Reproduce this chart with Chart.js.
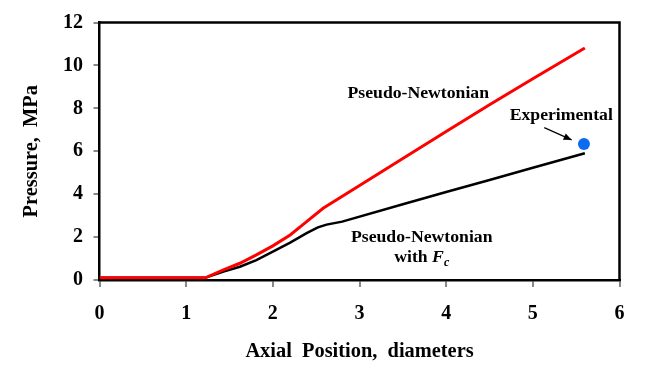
<!DOCTYPE html>
<html><head><meta charset="utf-8">
<script src="https://cdn.jsdelivr.net/npm/chart.js@4/dist/chart.umd.min.js"></script>
<style>html,body{margin:0;padding:0;background:#fff}canvas{display:block}</style>
</head><body>
<canvas id="c" width="650" height="374"></canvas>
<script>
// ---- data ----
const xTickValues = [0, 1, 2, 3, 4, 5, 6];
const yTickValues = [0, 2, 4, 6, 8, 10, 12];
const pseudoNewtonianX = [0, 1.22, 1.43, 1.62, 1.81, 2.0, 2.2, 2.39, 2.58, 2.89, 3.5, 4.0, 4.5, 5.0, 5.6];
const pseudoNewtonianY = [0.1, 0.1, 0.47, 0.78, 1.17, 1.59, 2.10, 2.72, 3.34, 4.12, 5.66, 6.92, 8.17, 9.38, 10.81];
const withFcX = [0, 1.22, 1.43, 1.62, 1.81, 2.0, 2.2, 2.39, 2.52, 2.62, 2.8, 3.5, 4.0, 4.5, 5.0, 5.6];
const withFcY = [0.1, 0.1, 0.39, 0.62, 0.93, 1.32, 1.74, 2.18, 2.45, 2.58, 2.72, 3.53, 4.1, 4.66, 5.23, 5.91];
const experimentalX = [5.59];
const experimentalY = [6.34];
const xTitle = 'Axial  Position,  diameters';
const yTitle = 'Pressure,  MPa';

const SERIF = '"Liberation Serif", "Times New Roman", serif';
const toPts = (xs, ys) => xs.map((x, i) => ({x: x, y: ys[i]}));

const annotatePlugin = {
  id: 'annotate',
  afterDraw(chart) {
    const ctx = chart.ctx, a = chart.chartArea;
    const xs = chart.scales.x, ys = chart.scales.y;
    ctx.save();
    // frame top/right
    ctx.strokeStyle = '#000';
    ctx.lineWidth = 2.5;
    ctx.beginPath();
    ctx.moveTo(a.left, a.top); ctx.lineTo(a.right, a.top); ctx.lineTo(a.right, a.bottom);
    ctx.stroke();
    // labels
    ctx.fillStyle = '#000';
    ctx.textBaseline = 'alphabetic';
    ctx.textAlign = 'center';
    ctx.font = 'bold 17.7px ' + SERIF;
    ctx.fillText('Pseudo-Newtonian', xs.getPixelForValue(3.678), ys.getPixelForValue(8.475));
    ctx.fillText('Experimental', xs.getPixelForValue(5.328), ys.getPixelForValue(7.46));
    ctx.fillText('Pseudo-Newtonian', xs.getPixelForValue(3.718), ys.getPixelForValue(1.758));
    // "with F_c"
    const cx = xs.getPixelForValue(3.718), by = ys.getPixelForValue(0.854);
    ctx.textAlign = 'left';
    const fNorm = 'bold 17.7px ' + SERIF, fIt = 'italic bold 17.7px ' + SERIF, fSub = 'italic bold 12px ' + SERIF;
    ctx.font = fNorm; const w1 = ctx.measureText('with ').width;
    ctx.font = fIt; const w2 = ctx.measureText('F').width;
    ctx.font = fSub; const w3 = ctx.measureText('c').width;
    let x0 = cx - (w1 + w2 + w3) / 2;
    ctx.font = fNorm; ctx.fillText('with ', x0, by);
    ctx.font = fIt; ctx.fillText('F', x0 + w1, by);
    ctx.font = fSub; ctx.fillText('c', x0 + w1 + w2, by + 4);
    // arrow
    const ax1 = xs.getPixelForValue(5.132), ay1 = ys.getPixelForValue(7.10);
    const ax2 = xs.getPixelForValue(5.448), ay2 = ys.getPixelForValue(6.53);
    ctx.lineWidth = 1.2;
    ctx.beginPath(); ctx.moveTo(ax1, ay1); ctx.lineTo(ax2, ay2); ctx.stroke();
    const ang = Math.atan2(ay2 - ay1, ax2 - ax1), L = 8, W = 3.5;
    ctx.beginPath();
    ctx.moveTo(ax2, ay2);
    ctx.lineTo(ax2 - L * Math.cos(ang) + W * Math.sin(ang), ay2 - L * Math.sin(ang) - W * Math.cos(ang));
    ctx.lineTo(ax2 - L * Math.cos(ang) - W * Math.sin(ang), ay2 - L * Math.sin(ang) + W * Math.cos(ang));
    ctx.closePath(); ctx.fill();
    ctx.restore();
  }
};

new Chart(document.getElementById('c'), {
  type: 'scatter',
  data: {
    datasets: [
      {label: 'Pseudo-Newtonian', data: toPts(pseudoNewtonianX, pseudoNewtonianY), showLine: true,
       borderColor: '#ff0000', borderWidth: 3, pointRadius: 0, tension: 0, order: 1},
      {label: 'Pseudo-Newtonian with Fc', data: toPts(withFcX, withFcY), showLine: true,
       borderColor: '#000000', borderWidth: 2.5, pointRadius: 0, tension: 0, order: 2},
      {label: 'Experimental', data: toPts(experimentalX, experimentalY), showLine: false,
       backgroundColor: '#0d6af2', borderColor: '#0d6af2', pointRadius: 6, borderWidth: 0, order: 0}
    ]
  },
  options: {
    responsive: false, animation: false, devicePixelRatio: 1,
    layout: {padding: {left: 0, right: 30.5, top: 22.5, bottom: 0}},
    plugins: {legend: {display: false}, tooltip: {enabled: false}},
    scales: {
      x: {
        type: 'linear', min: 0, max: 6,
        afterBuildTicks: s => { s.ticks = xTickValues.map(v => ({value: v})); },
        afterFit: s => { s.height = 94; },
        grid: {drawOnChartArea: false, drawTicks: true, tickLength: 7, color: '#888', lineWidth: 2},
        border: {color: '#000', width: 2.5},
        ticks: {color: '#000', padding: 15, font: {family: SERIF, size: 20, weight: 'bold'}, maxRotation: 0},
        title: {display: true, text: xTitle, color: '#000', font: {family: SERIF, size: 20.4, weight: 'bold'}, padding: {top: 0, bottom: 10}}
      },
      y: {
        type: 'linear', min: 0, max: 12,
        afterBuildTicks: s => { s.ticks = yTickValues.map(v => ({value: v})); },
        afterFit: s => { s.width = 99.5; },
        grid: {drawOnChartArea: false, drawTicks: true, tickLength: 6, color: '#888', lineWidth: 2},
        border: {color: '#000', width: 2.5},
        ticks: {color: '#000', padding: 10.5, font: {family: SERIF, size: 20, weight: 'bold'}},
        title: {display: true, text: yTitle, color: '#000', font: {family: SERIF, size: 20.4, weight: 'bold'}, padding: {top: 19.7, bottom: 0}}
      }
    }
  },
  plugins: [annotatePlugin]
});
</script>
</body></html>
